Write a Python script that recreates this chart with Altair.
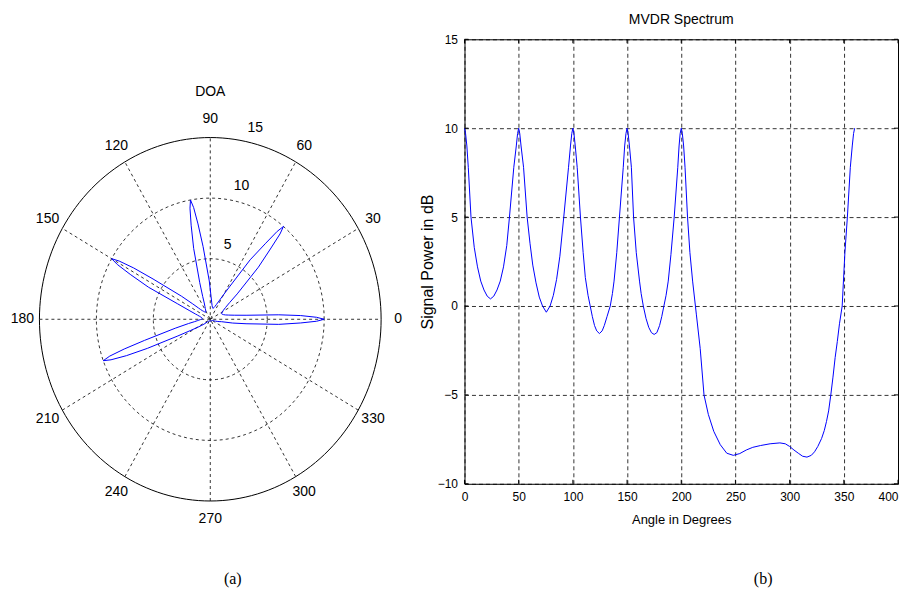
import altair as alt
import numpy as np
import pandas as pd

# ---- MVDR spectrum (angle in degrees, power in dB) ----
angle_deg = [0, 1, 2.2, 3.5, 6, 9, 12, 15, 18, 21, 24, 27, 30, 33, 36, 39, 41.5, 45.5, 47.8, 49, 50,
             51, 52.2, 54.5, 57.8, 60.5, 63, 66, 69, 72, 75.5, 79, 82, 85, 88, 91.6, 96, 97.8, 99, 100,
             101, 102.2, 104, 107, 109.5, 111.5, 114, 116, 118, 120, 122, 124.5, 127, 129, 131.5,
             134.5, 136.5, 138, 140.5, 143, 146.5, 147.8, 149, 150,
             151, 152.2, 154, 156, 158.5, 161.5, 163, 165, 167.5, 170, 172.5, 175, 177.5, 180,
             182, 184, 186, 188, 190.5, 193.5, 196.8, 198, 199, 200,
             201, 202.2, 203.5, 205.8, 208, 210.5, 214, 217.5, 221, 225, 230, 236, 242, 248,
             254, 260, 266, 273, 282, 291, 296, 300, 304, 308, 312, 316, 320, 323, 326, 329.5,
             332, 334, 336, 338, 340, 342, 344, 346,
             348.5, 351, 353.3, 356, 357.8, 359, 360]
power_db = [10, 9.7, 9.0, 7.8, 5.0, 3.3, 2.2, 1.4, 0.9, 0.55, 0.4, 0.55, 0.9, 1.4, 2.2, 3.4, 5.0, 7.8, 9.0, 9.7, 10,
            9.7, 9.0, 7.8, 5.0, 3.5, 2.3, 1.3, 0.5, 0.0, -0.35, 0.0, 0.6, 1.5, 2.8, 5.0, 7.8, 9.0, 9.7, 10,
            9.7, 9.0, 7.8, 5.0, 3.0, 1.6, 0.6, 0.0, -0.6, -1.1, -1.4, -1.55, -1.4, -1.1, -0.6,
            0.0, 0.7, 1.4, 3.0, 5.0, 7.8, 9.0, 9.7, 10,
            9.7, 9.0, 7.8, 5.0, 3.0, 1.4, 0.7, 0.0, -0.7, -1.2, -1.5, -1.6, -1.5, -1.1,
            -0.6, 0.0, 0.6, 1.4, 2.9, 5.0, 7.8, 9.0, 9.7, 10,
            9.7, 9.0, 7.8, 5.0, 3.0, 1.4, -0.5, -2.4, -5.0, -6.1, -7.05, -7.8, -8.28, -8.4,
            -8.3, -8.1, -7.95, -7.85, -7.75, -7.7, -7.75, -7.9, -8.1, -8.28, -8.45, -8.5, -8.4, -8.2, -7.9, -7.45,
            -7.0, -6.5, -5.9, -5.0, -4.0, -2.9, -2.0, -1.0,
            0.0, 3.0, 5.0, 7.8, 9.0, 9.7, 10]

x_ticks = [0, 50, 100, 150, 200, 250, 300, 350, 400]
y_ticks = [-10, -5, 0, 5, 10, 15]
X_RANGE = [0, 400]
Y_RANGE = [-10, 15]

# polar frame
R_MAX = 15
ring_radii = [5, 10, 15]
spoke_angles = [0, 30, 60, 90, 120, 150]
label_angles = [0, 30, 60, 90, 120, 150, 180, 210, 240, 270, 300, 330]
label_text = ["0", "30", "60", "90", "120", "150", "180", "210", "240", "270", "300", "330"]
radial_text = ["5", "10", "15"]

FONT = "Liberation Sans"
BLUE = "#0000ff"
DASH = [3, 3]

# ---- polar data (linear power of the same spectrum) ----
spec = pd.DataFrame({"angle": angle_deg, "db": power_db})
spec["lin"] = 10 ** (spec["db"] / 10.0)
th = np.deg2rad(spec["angle"])
spec["x"] = spec["lin"] * np.cos(th)
spec["y"] = spec["lin"] * np.sin(th)
spec["i"] = np.arange(len(spec))

circ = np.arange(0, 361, 2)
rings = pd.DataFrame([
    {"r": r, "k": k, "x": r * np.cos(np.deg2rad(a)), "y": r * np.sin(np.deg2rad(a))}
    for r in ring_radii for k, a in enumerate(circ)
])

spokes = pd.DataFrame({
    "x": [-R_MAX * np.cos(np.deg2rad(a)) for a in spoke_angles],
    "y": [-R_MAX * np.sin(np.deg2rad(a)) for a in spoke_angles],
    "x2": [R_MAX * np.cos(np.deg2rad(a)) for a in spoke_angles],
    "y2": [R_MAX * np.sin(np.deg2rad(a)) for a in spoke_angles],
})

rt = 1.1 * R_MAX
alabels = pd.DataFrame({
    "x": [rt * np.cos(np.deg2rad(a)) for a in label_angles],
    "y": [rt * np.sin(np.deg2rad(a)) for a in label_angles],
    "t": label_text,
})

rl_angle = np.deg2rad(76)
rlabels = pd.DataFrame({
    "x": [(r + 1.3) * np.cos(rl_angle) for r in ring_radii],
    "y": [(r + 1.3) * np.sin(rl_angle) for r in ring_radii],
    "t": radial_text,
})

doa = pd.DataFrame({"x": [0.0], "y": [1.25 * R_MAX], "t": ["DOA"]})

xs = alt.Scale(domain=[-17.76, 17.76], nice=False, zero=False)
ys = alt.Scale(domain=[-13.58, 23.11], nice=False, zero=False)
X = alt.X("x:Q", scale=xs, axis=None)
Y = alt.Y("y:Q", scale=ys, axis=None)

inner = alt.Chart(rings[rings["r"] < R_MAX]).mark_line(
    color="black", strokeWidth=0.8, strokeDash=DASH
).encode(x=X, y=Y, detail="r:N", order="k:Q")

outer = alt.Chart(rings[rings["r"] == R_MAX]).mark_line(
    color="black", strokeWidth=1
).encode(x=X, y=Y, order="k:Q")

spoke_layer = alt.Chart(spokes).mark_rule(
    color="black", strokeWidth=0.8, strokeDash=DASH
).encode(x=X, y=Y, x2="x2:Q", y2="y2:Q")

curve = alt.Chart(spec).mark_line(color=BLUE, strokeWidth=1).encode(
    x=X, y=Y, order="i:Q"
)

ang_text = alt.Chart(alabels).mark_text(
    font=FONT, fontSize=14, color="black", align="center", baseline="middle"
).encode(x=X, y=Y, text="t:N")

rad_text = alt.Chart(rlabels).mark_text(
    font=FONT, fontSize=14, color="black", align="center", baseline="middle"
).encode(x=X, y=Y, text="t:N")

doa_text = alt.Chart(doa).mark_text(
    font=FONT, fontSize=14, color="black", align="center", baseline="middle"
).encode(x=X, y=Y, text="t:N")

cap_a = alt.Chart(pd.DataFrame({"t": ["(a)"]})).mark_text(
    font="Liberation Serif", fontSize=16, color="black", align="center", baseline="alphabetic"
).encode(x=alt.value(225), y=alt.value(545), text="t:N")

left = alt.layer(inner, outer, spoke_layer, curve, ang_text, rad_text, doa_text, cap_a).properties(
    width=405, height=445, view=alt.ViewBackground(stroke=None)
)

# ---- cartesian spectrum ----
x_label_align = {"condition": {"test": "datum.value == 400", "value": "right"}, "value": "center"}
sx = alt.Scale(domain=X_RANGE, nice=False, zero=False)
sy = alt.Scale(domain=Y_RANGE, nice=False, zero=False)

line = alt.Chart(spec).mark_line(color=BLUE, strokeWidth=1).encode(
    x=alt.X("angle:Q", scale=sx,
            axis=alt.Axis(values=x_ticks, title="Angle in Degrees", grid=True,
                          gridDash=[4, 3], gridColor="black", gridWidth=0.8, gridOpacity=1,
                          ticks=False, domain=False, labelPadding=8, labelFont=FONT,
                          labelFontSize=12, labelColor="black", labelFlush=False,
                          labelAlign=x_label_align,
                          titleFont=FONT, titleFontSize=13, titleFontWeight="normal",
                          titleColor="black", titlePadding=11)),
    y=alt.Y("db:Q", scale=sy,
            axis=alt.Axis(values=y_ticks, title="Signal Power in dB", grid=True,
                          gridDash=[4, 3], gridColor="black", gridWidth=0.8, gridOpacity=1,
                          ticks=False, domain=False, labelPadding=7, labelFont=FONT,
                          labelFontSize=12, labelColor="black", labelFlush=False,
                          titleFont=FONT, titleFontSize=16, titleFontWeight="normal",
                          titleColor="black", titlePadding=2)),
    order="i:Q",
)

# small inward tick marks on all four sides of the box (MATLAB style)
tick_len_y = (Y_RANGE[1] - Y_RANGE[0]) * 4 / 445
tick_len_x = (X_RANGE[1] - X_RANGE[0]) * 4 / 434
xt = pd.DataFrame({"v": x_ticks})
yt = pd.DataFrame({"v": y_ticks})
ticks_bottom = alt.Chart(xt).mark_rule(color="black", strokeWidth=1).encode(
    x=alt.X("v:Q", scale=sx), y=alt.datum(Y_RANGE[0]), y2=alt.datum(Y_RANGE[0] + tick_len_y))
ticks_top = alt.Chart(xt).mark_rule(color="black", strokeWidth=1).encode(
    x=alt.X("v:Q", scale=sx), y=alt.datum(Y_RANGE[1]), y2=alt.datum(Y_RANGE[1] - tick_len_y))
ticks_left = alt.Chart(yt).mark_rule(color="black", strokeWidth=1).encode(
    y=alt.Y("v:Q", scale=sy), x=alt.datum(X_RANGE[0]), x2=alt.datum(X_RANGE[0] + tick_len_x))
ticks_right = alt.Chart(yt).mark_rule(color="black", strokeWidth=1).encode(
    y=alt.Y("v:Q", scale=sy), x=alt.datum(X_RANGE[1]), x2=alt.datum(X_RANGE[1] - tick_len_x))

cap_b = alt.Chart(pd.DataFrame({"t": ["(b)"]})).mark_text(
    font="Liberation Serif", fontSize=16, color="black", align="center", baseline="alphabetic"
).encode(x=alt.value(299), y=alt.value(545), text="t:N")

right = alt.layer(line, ticks_bottom, ticks_top, ticks_left, ticks_right, cap_b).properties(
    width=434, height=445,
    title=alt.Title("MVDR Spectrum", font=FONT, fontSize=14, fontWeight="normal",
                    color="black", offset=6, anchor="middle"),
    view=alt.ViewBackground(stroke="black", strokeWidth=1),
)

chart = alt.hconcat(left, right, spacing=6).properties(
    padding={"left": 0, "top": 4, "right": 0, "bottom": 0},
    background="white",
)

chart.save("out.html", embed_options={"renderer": "svg", "actions": False})
